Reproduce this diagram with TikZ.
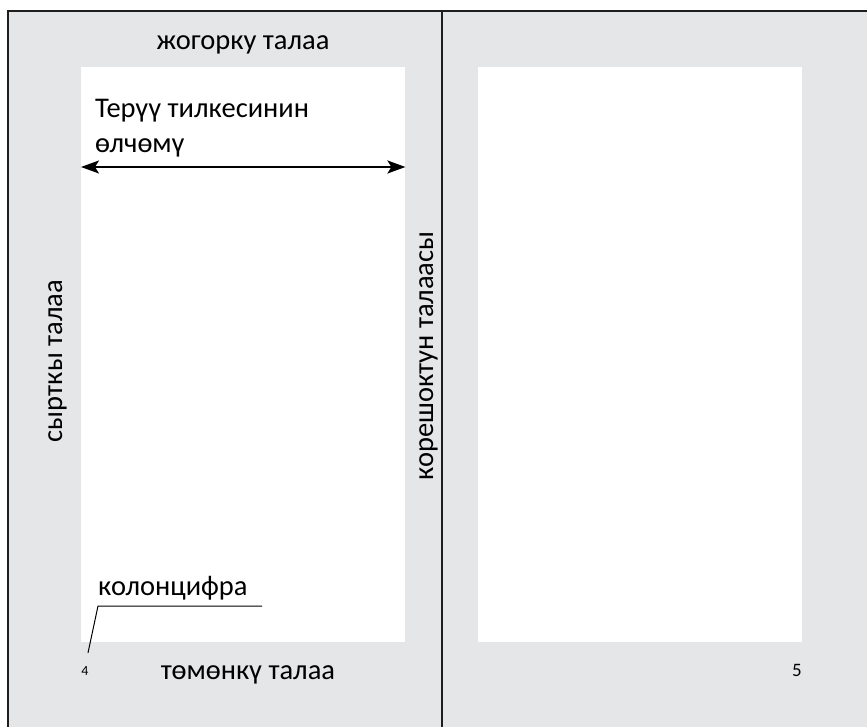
\documentclass[tikz,border=0pt]{standalone}
\usepackage{fontspec}
\setmainfont{Carlito}
\usepackage[HTML]{xcolor}
\usepackage{tikz}
\usetikzlibrary{positioning, arrows, arrows.meta}
\definecolor{margingray}{HTML}{E5E6E8}
\definecolor{framegray}{HTML}{1E1E1E}

\begin{document}
\begin{tikzpicture}[x=1pt,y=-1pt,
  lbl/.style={font=\fontsize{28.5}{35}\selectfont, inner sep=0pt},
  textarea/.style={fill=white, minimum width=324pt, minimum height=575pt, inner sep=0pt, anchor=north west},
  frameline/.style={draw=framegray, line width=2pt}]
\useasboundingbox (0,0) rectangle (867,727);
% margins of the spread
\fill[margingray] (8,11) rectangle (867,727);
% type areas
\node[textarea] (leftpage) at (81,67) {};
\node[textarea] (rightpage) at (478,67) {};
% frame and fold
\draw[frameline] (8,727) -- (8,11) -- (867,11);
\draw[frameline] (442,11) -- (442,727);
% margin names
\node[lbl, anchor=base] (topmargin) at (243,50) {жогорку талаа};
\node[lbl, anchor=base] (bottommargin) at (248,679) {төмөнкү талаа};
\node[lbl, anchor=base, rotate=90] (outermargin) at (62,361) {сырткы талаа};
\node[lbl, anchor=base, rotate=90] (spinemargin) at (433,356) {корешоктун талаасы};
% measure of the type area
\node[lbl, align=left, anchor=base west] (measure) at (95,153) {Терүү тилкесинин\\өлчөмү};
\coordinate (arrowlevel) at (0,167);
\draw[{Stealth[length=18pt,width=13pt,inset=4pt]}-{Stealth[length=18pt,width=13pt,inset=4pt]}, line width=2pt]
  (leftpage.west |- arrowlevel) -- (leftpage.east |- arrowlevel);
% folios
\node[lbl, anchor=base west] (folio) at (98,595) {колонцифра};
\node[font=\fontsize{14}{16}\selectfont, inner sep=0pt, anchor=base] (pagefour) at (85,675) {4};
\node[font=\fontsize{19}{21}\selectfont, inner sep=0pt, anchor=base] (pagefive) at (797,676) {5};
\coordinate (leaderend) at (262,606);
\coordinate (leaderknee) at (98,606);
\draw[line width=1pt] (leaderend) -- (leaderknee) -- ([xshift=3pt,yshift=13pt]pagefour.north);
\end{tikzpicture}
\end{document}
